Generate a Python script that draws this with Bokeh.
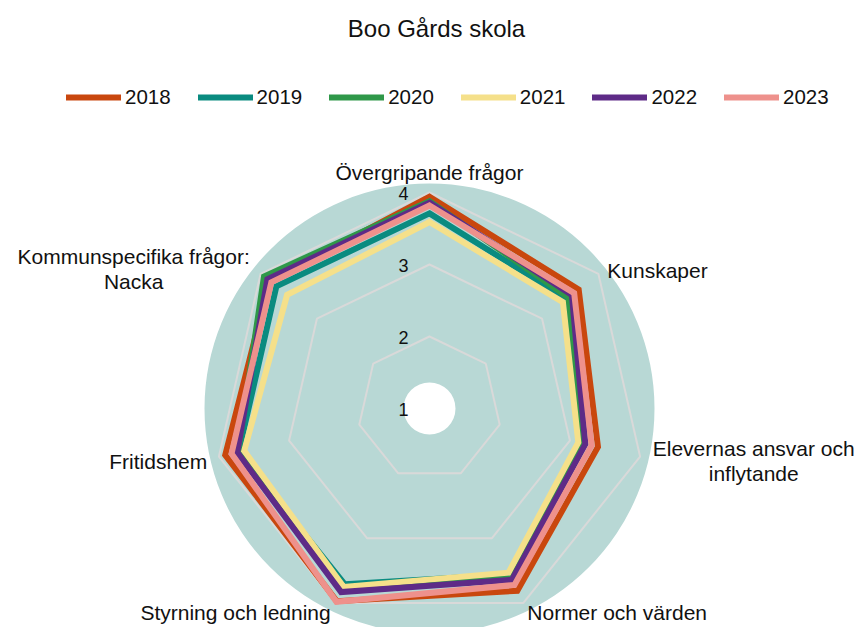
import numpy as np
from bokeh.plotting import figure
from bokeh.models import Range1d, Label, Legend, LegendItem, ColumnDataSource
from bokeh.embed import file_html
from bokeh.resources import INLINE
from bokeh.core.properties import value

# ---------------- data ----------------
title_text = "Boo Gårds skola"
categories = [
    "Övergripande frågor",
    "Kunskaper",
    "Elevernas ansvar och\ninflytande",
    "Normer och värden",
    "Styrning och ledning",
    "Fritidshem",
    "Kommunspecifika frågor:\nNacka",
]
years = ["2018", "2019", "2020", "2021", "2022", "2023"]
v2018 = [3.94, 3.65, 3.40, 3.81, 3.97, 3.91, 3.84]
v2019 = [3.71, 3.44, 3.18, 3.56, 3.71, 3.72, 3.72]
v2020 = [3.88, 3.47, 3.20, 3.62, 3.80, 3.73, 3.94]
v2021 = [3.59, 3.37, 3.12, 3.53, 3.75, 3.64, 3.53]
v2022 = [3.86, 3.53, 3.22, 3.64, 3.83, 3.74, 3.88]
v2023 = [3.82, 3.57, 3.31, 3.72, 3.98, 3.82, 3.81]
colors = ["#C9470E", "#0A8B80", "#2F9849", "#F5E08A", "#5E2B87", "#EE918C"]
tick_values = [1, 2, 3, 4]
tick_labels = ["1", "2", "3", "4"]

series = [v2018, v2019, v2020, v2021, v2022, v2023]

# ---------------- geometry ----------------
W, H = 858, 627
S = 72.0                 # pixels per value unit
cx_px, cy_px = 429, 408  # centre of the radar in frame pixels (from top-left)
v_min = 1.0              # value at the centre
pane_max = 1 + 225 / S   # background disc extent
hole = 26 / S

n = len(categories)
ang = np.pi / 2 - 2 * np.pi * np.arange(n) / n


def polar(vals):
    r = np.asarray(vals, dtype=float) - v_min
    return list(r * np.cos(ang)), list(r * np.sin(ang))


p = figure(
    width=W, height=H, output_backend="svg", toolbar_location=None,
    x_range=Range1d(-cx_px / S, (W - cx_px) / S),
    y_range=Range1d(-(H - cy_px) / S, cy_px / S),
    x_axis_type=None, y_axis_type=None, min_border=0,
)
p.outline_line_color = None
p.background_fill_color = "white"
p.border_fill_color = "white"

# background disc and hole
p.circle(x=[0], y=[0], radius=[pane_max - v_min], fill_color="#B8D8D5",
         line_color=None)
p.circle(x=[0], y=[0], radius=[hole], fill_color="white", line_color=None)

# grid polygons
for tv in tick_values[1:]:
    gx, gy = polar([tv] * n)
    p.patch(gx, gy, fill_color=None, line_color="#D9D9D9", line_width=2)

# series
for vals, col in zip(series, colors):
    sx, sy = polar(vals)
    p.patch(sx, sy, fill_color=None, line_color=col, line_width=6,
            line_join="miter")

# radial tick labels
p.text(x=[0] * len(tick_values), y=[t - v_min for t in tick_values],
       text=tick_labels, x_offset=-21, y_offset=1,
       text_align="right", text_baseline="middle",
       text_font=value("Liberation Sans"), text_font_size="18px",
       text_color="#111111")

# category labels
R_lab = 230 / S
lx = list(R_lab * np.cos(ang))
ly = list(R_lab * np.sin(ang))
aligns = ["center", "left", "center", "left", "right", "right", "center"]
dxs = [0, -2, 100, -2, 1, 2, -116]
dys = [-6, 5, 1, -3, -3, 2, 4]
src = ColumnDataSource(dict(x=lx, y=ly, text=categories, align=aligns,
                            dx=dxs, dy=dys))
p.text(x="x", y="y", text="text", source=src, x_offset="dx", y_offset="dy",
       text_align="align", text_baseline="middle",
       text_font=value("Liberation Sans"), text_font_size="21px",
       text_color="#111111", text_line_height=1.1)

# legend (off-screen renderers, round caps)
items = []
for yr, col in zip(years, colors):
    r = p.line(x=[0, 1], y=[50, 50], line_color=col, line_width=6,
               line_cap="round")
    items.append(LegendItem(label=yr, renderers=[r]))
legend = Legend(
    items=items, orientation="horizontal", location=(66, 518),
    glyph_width=55, glyph_height=24, label_height=24, label_standoff=4,
    spacing=27, padding=0, margin=0, border_line_color=None,
    background_fill_alpha=0, label_text_font="Liberation Sans",
    label_text_font_size="20.5px", label_text_color="#111111",
    label_text_baseline="middle",
)
p.add_layout(legend)

# title
p.add_layout(Label(x=436, y=H - 28, x_units="screen", y_units="screen",
                   text=title_text, text_align="center",
                   text_baseline="middle", text_font="Liberation Sans",
                   text_font_size="24px", text_color="#111111"))

open("out.html", "w").write(file_html(p, INLINE))
